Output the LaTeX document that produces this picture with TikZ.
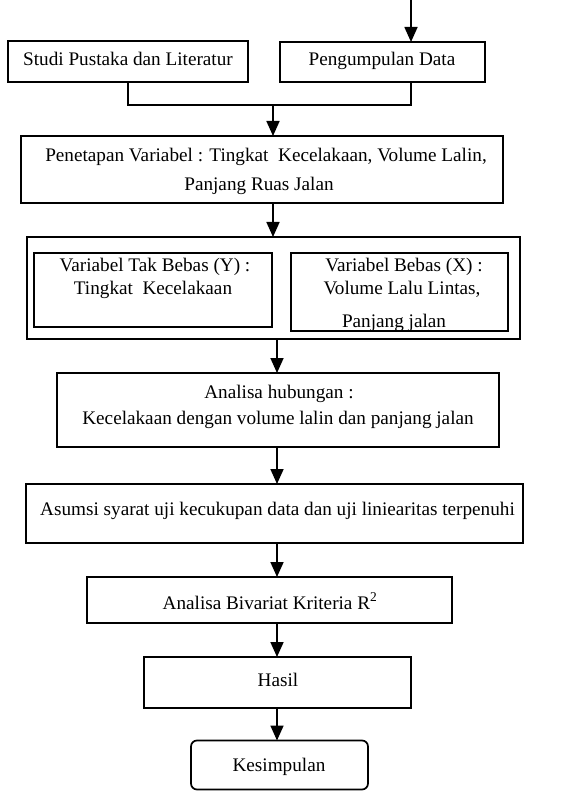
\documentclass[tikz,border=0pt]{standalone}
\usepackage{fontspec}
\setmainfont{Liberation Serif}
\usetikzlibrary{arrows.meta}
\begin{document}
\begin{tikzpicture}[x=1pt,y=-1pt,
  box/.style={draw, line width=1.7pt, inner sep=0pt, outer sep=0pt},
  txt/.style={inner sep=0pt, anchor=base, font=\fontsize{19.2}{23}\selectfont},
  arr/.style={line width=1.7pt, -{Triangle[width=13pt,length=15pt]}},
  ln/.style={line width=1.7pt}]
\useasboundingbox (0,0) rectangle (585,791);
% boxes
\node[box, minimum width=240pt, minimum height=41pt] (studi) at (128,61.5) {};
\node[box, minimum width=205pt, minimum height=40pt] (peng) at (382.5,62) {};
\node[box, minimum width=482pt, minimum height=67pt] (pen) at (262,169.5) {};
\node[box, minimum width=493pt, minimum height=102pt] (outer) at (273.5,288) {};
\node[box, minimum width=238pt, minimum height=74pt] (inl) at (153,290) {};
\node[box, minimum width=217pt, minimum height=78pt] (inr) at (399.5,292) {};
\node[box, minimum width=442pt, minimum height=74pt] (ana) at (278,410) {};
\node[box, minimum width=497pt, minimum height=59pt] (asu) at (274.5,513.5) {};
\node[box, minimum width=365pt, minimum height=46pt] (biv) at (269.5,600) {};
\node[box, minimum width=267pt, minimum height=51pt] (has) at (277.5,682.5) {};
\node[box, rounded corners=6pt, minimum width=177pt, minimum height=49pt] (kes) at (279.5,765) {};
% texts
\node[txt] (tstudi) at (128,66) {Studi Pustaka dan Literatur};
\node[txt] (tpeng) at (382,66) {Pengumpulan Data};
\node[txt] (tpen1) at (266,162) {Penetapan Variabel : Tingkat \ Kecelakaan, Volume Lalin,};
\node[txt] (tpen2) at (259,191) {Panjang Ruas Jalan};
\node[txt] (tinl1) at (155,272) {Variabel Tak Bebas (Y) :};
\node[txt] (tinl2) at (153,294) {Tingkat \ Kecelakaan};
\node[txt] (tinr1) at (404,272) {Variabel Bebas (X) :};
\node[txt] (tinr2) at (402,294) {Volume Lalu Lintas,};
\node[txt] (tinr3) at (394,327) {Panjang jalan};
\node[txt] (tana1) at (279,398) {Analisa hubungan :};
\node[txt] (tana2) at (278,424) {Kecelakaan dengan volume lalin dan panjang jalan};
\node[txt] (tasu) at (277.5,515) {Asumsi syarat uji kecukupan data dan uji liniearitas terpenuhi};
\node[txt] (tbiv) at (270,609) {Analisa Bivariat Kriteria R\textsuperscript{2}};
\node[txt] (thas) at (278,686) {Hasil};
\node[txt] (tkes) at (279,771) {Kesimpulan};
% connectors
\coordinate (top) at (411,0);
\coordinate (j) at (273,105);
\coordinate (k) at (277,0);
\draw[arr] (top) -- (peng.north -| top);
\draw[ln] (studi.south) |- (j) -| (peng.south -| top);
\draw[arr] (j) -- (pen.north -| j);
\draw[arr] (pen.south -| j) -- (outer.north -| j);
\draw[arr] (outer.south -| k) -- (ana.north -| k);
\draw[arr] (ana.south -| k) -- (asu.north -| k);
\draw[arr] (asu.south -| k) -- (biv.north -| k);
\draw[arr] (biv.south -| k) -- (has.north -| k);
\draw[arr] (has.south -| k) -- (kes.north -| k);
\end{tikzpicture}
\end{document}
